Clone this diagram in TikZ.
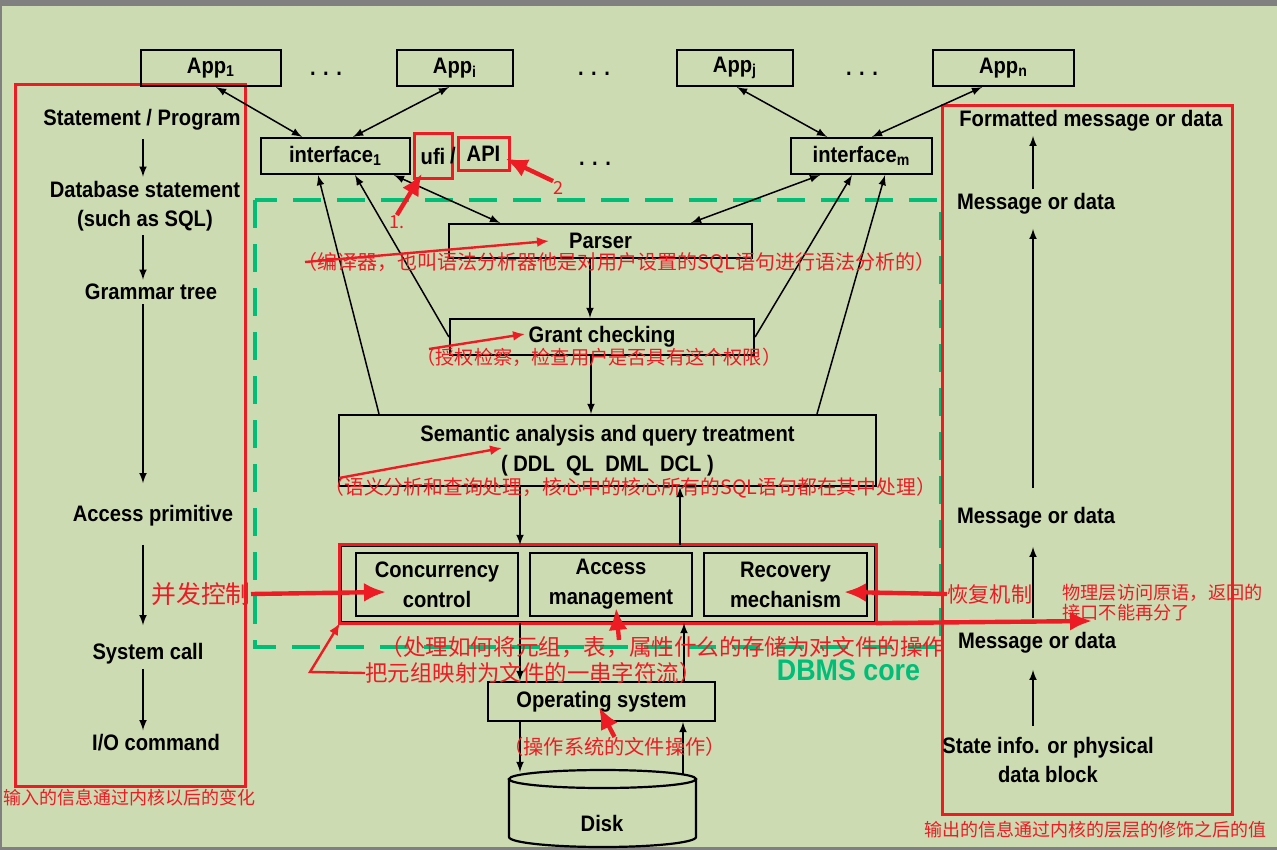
\documentclass[tikz,border=0pt]{standalone}
\usepackage{fontspec}
\setmainfont[FakeStretch=0.9]{Liberation Sans}
\newfontfamily\cjk{Noto Sans CJK SC}
\newcommand\zh[2]{\cjk\fontsize{#1}{#2}\selectfont}
\usetikzlibrary{arrows.meta}
\definecolor{annred}{RGB}{237,28,36}
\definecolor{coregreen}{RGB}{0,190,120}
\definecolor{paper}{RGB}{205,219,179}
\tikzset{
  box/.style={draw, line width=1.1pt, inner sep=0pt, align=center, font=\bfseries\fontsize{11.2}{15}\selectfont},
  redbox/.style={draw=annred, line width=1.5pt, inner sep=0pt, font=\bfseries\fontsize{11.2}{12}\selectfont},
  lbl/.style={inner sep=2pt, align=center, font=\bfseries\fontsize{11.2}{14.5}\selectfont},
  ann/.style={inner sep=0pt, anchor=west, text=annred, align=left},
  link/.style={line width=0.75pt, >=latex},
  bigarrow/.style={annred, line width=2.2pt, >={Latex[length=11pt,width=9.5pt]}, ->},
  redarrow/.style={annred, line width=1.2pt, >={Latex[length=6pt,width=5pt]}, ->},
}
\begin{document}
\begin{tikzpicture}[x=0.5pt,y=-0.5pt]
\useasboundingbox (0,0) rectangle (1277,850);
\fill[black!50] (0,0) rectangle (1277,850);
\fill[paper] (2,6) rectangle (1277,847);

\draw[coregreen, line width=2.2pt, dash pattern=on 14pt off 8pt] (255,200) rectangle (941,647);
\draw[annred, line width=1.5pt] (15,85) rectangle (245,786);
\draw[annred, line width=1.5pt] (942,106) rectangle (1232,814);

\node[box, minimum width=70pt, minimum height=18pt] (app1) at (211,68) {App\textsubscript{1}};
\node[box, minimum width=58pt, minimum height=18pt] (appi) at (455,68) {App\textsubscript{i}};
\node[box, minimum width=58pt, minimum height=18pt] (appj) at (735,68) {App\textsubscript{j}};
\node[box, minimum width=70.5pt, minimum height=18pt] (appn) at (1003.5,68) {App\textsubscript{n}};
\node[lbl] (dots1) at (326,74) {. . .};
\node[lbl] (dots2) at (594,74) {. . .};
\node[lbl] (dots3) at (862,74) {. . .};

\node[box, minimum width=74.5pt, minimum height=18pt] (if1) at (335.5,156) {interface\textsubscript{1}};
\node[box, minimum width=70.5pt, minimum height=18pt] (ifm) at (861.5,156) {interface\textsubscript{m}};
\node[redbox, minimum width=19pt, minimum height=22.5pt] (ufi) at (433,156.5) {ufi};
\node[lbl, inner sep=0pt] (slash) at (453,156) {/};
\node[redbox, minimum width=25.5pt, minimum height=16.5pt] (api) at (483.5,154) {API};
\node[lbl] (dots4) at (595,164) {. . .};

\node[box, minimum width=151.5pt, minimum height=17pt] (parser) at (600.5,241) {Parser};
\node[box, minimum width=152pt, minimum height=18pt] (grant) at (602,337) {Grant checking};
\node[box, minimum width=268.5pt, minimum height=35.5pt] (sem) at (607.5,450.5) {Semantic analysis and query treatment\\(~DDL~~QL~~DML~~DCL~)};
\node[box, minimum width=267pt, minimum height=38pt] (core) at (608,584) {};
\draw[annred, line width=1.5pt] (core.south west) rectangle (core.north east);
\node[box, minimum width=81pt, minimum height=31.5pt] (conc) at (437,584.5) {Concurrency\\control};
\node[box, minimum width=81pt, minimum height=31.5pt] (acc) at (611,584.5) {Access\\management};
\node[box, minimum width=81.5pt, minimum height=31.5pt] (rec) at (785.5,584.5) {Recovery\\mechanism};
\node[box, minimum width=113.5pt, minimum height=19.5pt] (os) at (601.5,701.5) {Operating system};

\draw[line width=1.1pt] (509,779) -- (509,837) arc[start angle=180, end angle=360, x radius=46.75pt, y radius=5pt] -- (696,779);
\draw[line width=1.1pt] (602.5,779) ellipse[x radius=46.75pt, y radius=4.5pt];
\node[lbl] (disk) at (602,823) {Disk};
\coordinate (dl) at (520,772);
\coordinate (dr) at (683,774);

\node[font=\bfseries\fontsize{14.9}{16}\selectfont, text=coregreen] (dbms) at (848.5,670) {DBMS core};

\coordinate (lx) at (143,0);
\node[lbl] (s1) at (142,120) {Statement / Program};
\node[lbl] (s2) at (145,206) {Database statement\\(such as SQL)};
\node[lbl] (s3) at (151,292) {Grammar tree};
\node[lbl] (s4) at (153,516) {Access primitive};
\node[lbl] (s5) at (148,654) {System call};
\node[lbl] (s6) at (156,743) {I/O command};
\draw[link,->, shorten <=2pt] (s1.south -| lx) -- (s2.north -| lx);
\draw[link,->] (s2.south -| lx) -- (s3.north -| lx);
\draw[link,->, shorten >=9pt] (s3.south -| lx) -- (s4.north -| lx);
\draw[link,->, shorten <=7pt, shorten >=7pt] (s4.south -| lx) -- (s5.north -| lx);
\draw[link,->] (s5.south -| lx) -- (s6.north -| lx);

\coordinate (rx) at (1033,0);
\node[lbl] (r1) at (1091,121) {Formatted message or data};
\node[lbl] (r2) at (1036,204) {Message or data};
\node[lbl] (r3) at (1036,518) {Message or data};
\node[lbl] (r4) at (1037,643) {Message or data};
\node[lbl] (r5) at (1048,760) {State info. or physical\\data block};
\draw[link,->] (r2.north -| rx) -- (r1.south -| rx);
\draw[link,->, shorten <=7.5pt, shorten >=5pt] (r3.north -| rx) -- (r2.south -| rx);
\draw[link,->, shorten <=5pt, shorten >=7pt] (r4.north -| rx) -- (r3.south -| rx);
\draw[link,->, shorten <=3.5pt, shorten >=6pt] (r5.north -| rx) -- (r4.south -| rx);

\draw[link,<->] ([xshift=2.5pt]app1.south) -- ([xshift=-16.75pt]if1.north);
\draw[link,<->] ([xshift=-3pt]appi.south) -- ([xshift=8.75pt]if1.north);
\draw[link,<->] ([xshift=1pt]appj.south) -- ([xshift=-17.25pt]ifm.north);
\draw[link,<->] ([xshift=-10.75pt]appn.south) -- ([xshift=5.25pt]ifm.north);
\draw[link,<->] ([xshift=29.25pt]if1.south) -- ([xshift=-50.25pt]parser.north);
\draw[link,<->] ([xshift=-20.75pt]ifm.south) -- ([xshift=45.25pt]parser.north);
\draw[link,->] ([xshift=-114.25pt]sem.north) -- ([xshift=-8.75pt]if1.south);
\draw[link,->] (grant.west) -- ([xshift=9.75pt]if1.south);
\draw[link,->] (grant.east) -- ([xshift=-4.75pt]ifm.south);
\draw[link,->] ([xshift=104.75pt]sem.north) -- ([xshift=11.75pt]ifm.south);
\draw[link,->] ([xshift=-5.25pt]parser.south) -- ([xshift=-6pt]grant.north);
\draw[link,->] ([xshift=-5.5pt]grant.south) -- ([xshift=-8.25pt]sem.north);
\draw[link,->] ([xshift=-43.75pt]sem.south) -- ([xshift=-44pt]core.north);
\draw[link,->] ([xshift=36pt]core.north) -- ([xshift=36.25pt]sem.south);
\draw[link,->] ([xshift=-44pt]core.south) -- ([xshift=-40.75pt]os.north);
\draw[link,->] ([xshift=41.25pt]os.north) -- ([xshift=38pt]core.south);
\draw[link,->] (os.south -| dl) -- (dl);
\draw[link,->] (dr) -- (os.south -| dr);

\node[ann, font={\zh{10}{12}}] (pann) at (297,263) {（编译器，也叫语法分析器他是对用户设置的SQL语句进行语法分析的）};
\node[ann, font={\zh{9.6}{11}}] (gann) at (416,357) {（授权检察，检查用户是否具有这个权限）};
\node[ann, font={\zh{9.9}{12}}] (sann) at (324,488) {（语义分析和查询处理，核心中的核心所有的SQL语句都在其中处理）};
\node[ann, font={\zh{11.3}{13}}] (aann) at (380,647) {（处理如何将元组，表，属性什么的存储为对文件的操作};
\node[ann, font={\zh{11.2}{13}}] (aann2) at (365,673) {把元组映射为文件的一串字符流）};
\node[ann, font={\zh{10.1}{12}}] (oann) at (503,747) {（操作系统的文件操作）};
\node[ann, font={\zh{12.4}{14}}] (bf) at (151,594) {并发控制};
\node[ann, font={\zh{10.6}{12}}] (hf) at (947,594) {恢复机制};
\node[ann, font={\zh{9.1}{10}}] (wl) at (1062,603) {物理层访问原语，返回的\\接口不能再分了};
\node[ann, font={\zh{9}{11}}] (inote) at (3,798) {输入的信息通过内核以后的变化};
\node[ann, font={\zh{9}{11}}] (onote) at (924,830) {输出的信息通过内核的层层的修饰之后的值};
\node[ann, font={\zh{9}{11}}] (n1) at (389,222) {1.};
\node[ann, font={\zh{9}{11}}] (n2) at (553,188) {2};

\coordinate (ptail) at (305,262);
\coordinate (gtail) at (429,349);
\coordinate (stail) at (339,478);
\coordinate (atail) at (619,640);
\coordinate (wtip) at (1092,621);
\coordinate (bend) at (310,672);
\draw[redarrow] (ptail) -- ([xshift=-25.75pt]parser.center);
\draw[redarrow] (gtail) -- ([xshift=-38.5pt,yshift=1.5pt]grant.center);
\draw[redarrow] (stail) -- ([xshift=-52.75pt,yshift=1.25pt]sem.center);
\draw[redarrow] (aann2.west) -- (bend) -- (core.south west);
\draw[bigarrow] (n1.north) -- ([xshift=-5.5pt,yshift=3.5pt]ufi.south);
\draw[bigarrow] (n2.north west) -- ([xshift=-2.5pt,yshift=-2.25pt]api.east);
\draw[bigarrow] (bf.east) -- ([xshift=-25.5pt,yshift=-3.75pt]conc.center);
\draw[bigarrow] (hf.west) -- ([xshift=29.25pt,yshift=-3.75pt]rec.center);
\draw[bigarrow] (atail) -- ([xshift=2.5pt,yshift=-11.75pt]acc.center);
\draw[bigarrow] (core.south east) -- (wtip);
\draw[bigarrow] (oann.north) -- ([xshift=-1.25pt,yshift=-2.75pt]os.center);
\end{tikzpicture}
\end{document}
